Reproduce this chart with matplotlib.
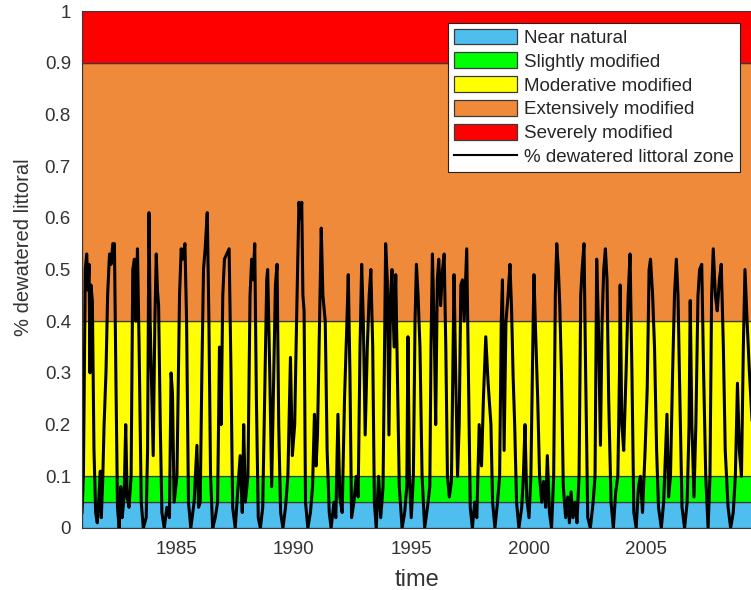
import matplotlib
matplotlib.use("Agg")
import matplotlib.pyplot as plt
from matplotlib.patches import Patch
from matplotlib.lines import Line2D

plt.rcParams['font.family'] = ['Liberation Sans', 'DejaVu Sans']

# Classification bands (lower, upper) and colours
band_labels = ["Near natural", "Slightly modified", "Moderative modified",
               "Extensively modified", "Severely modified"]
band_lower = [0.0, 0.05, 0.1, 0.4, 0.9]
band_upper = [0.05, 0.1, 0.4, 0.9, 1.0]
band_colors = ["#4DBEEE", "#00FF00", "#FFFF00", "#EF8A3A", "#FF0000"]

line_label = "% dewatered littoral zone"

# Time series (decimal year, fraction dewatered)
time = [
    1981.00, 1981.06, 1981.14, 1981.20, 1981.26, 1981.30, 1981.34, 1981.38, 1981.44, 1981.51,
    1981.58, 1981.65, 1981.72, 1981.78, 1981.82, 1981.88, 1981.94, 1982.02, 1982.09, 1982.17,
    1982.24, 1982.31, 1982.38, 1982.44, 1982.51, 1982.58, 1982.65, 1982.71, 1982.79, 1982.86,
    1982.92, 1983.00, 1983.09, 1983.16, 1983.23, 1983.29, 1983.36, 1983.43, 1983.52, 1983.61,
    1983.73, 1983.79, 1983.85, 1983.90, 1983.96, 1984.03, 1984.10, 1984.16, 1984.21, 1984.26,
    1984.33, 1984.40, 1984.50, 1984.61, 1984.72, 1984.79, 1984.85, 1984.92, 1985.04, 1985.15,
    1985.22, 1985.29, 1985.38, 1985.45, 1985.53, 1985.63, 1985.77, 1985.89, 1985.96, 1986.03,
    1986.10, 1986.17, 1986.24, 1986.33, 1986.40, 1986.47, 1986.56, 1986.67, 1986.77, 1986.85,
    1986.92, 1986.99, 1987.06, 1987.16, 1987.26, 1987.34, 1987.41, 1987.52, 1987.64, 1987.73,
    1987.82, 1987.88, 1987.95, 1988.06, 1988.15, 1988.22, 1988.28, 1988.35, 1988.42, 1988.50,
    1988.59, 1988.69, 1988.77, 1988.86, 1988.90, 1988.99, 1989.07, 1989.16, 1989.23, 1989.30,
    1989.37, 1989.45, 1989.55, 1989.66, 1989.76, 1989.87, 1989.95,
    1990.05, 1990.13, 1990.23, 1990.30, 1990.35, 1990.40, 1990.45, 1990.51, 1990.61, 1990.72,
    1990.81, 1990.89, 1990.96, 1991.02, 1991.09, 1991.18, 1991.25, 1991.35, 1991.43, 1991.52,
    1991.60, 1991.72, 1991.80, 1991.89, 1991.97, 1992.07, 1992.17, 1992.26, 1992.33, 1992.40,
    1992.47, 1992.57, 1992.67, 1992.75, 1992.83, 1992.90, 1992.97, 1993.05, 1993.14, 1993.22,
    1993.29, 1993.37, 1993.44, 1993.52, 1993.62, 1993.71, 1993.81, 1993.86, 1993.92, 1993.99,
    1994.06, 1994.13, 1994.19, 1994.28, 1994.35, 1994.42, 1994.50, 1994.62, 1994.73, 1994.82,
    1994.87, 1994.93, 1995.01, 1995.10, 1995.17, 1995.23, 1995.30, 1995.38, 1995.47, 1995.58,
    1995.70, 1995.80, 1995.85, 1995.91, 1995.98, 1996.05, 1996.12, 1996.18, 1996.26, 1996.34,
    1996.41, 1996.48, 1996.55, 1996.63, 1996.72, 1996.78, 1996.83, 1996.90, 1996.98, 1997.05,
    1997.12, 1997.19, 1997.26, 1997.37, 1997.44, 1997.52, 1997.61, 1997.71, 1997.80, 1997.90,
    1998.00, 1998.08, 1998.18, 1998.28, 1998.40, 1998.47, 1998.57, 1998.68, 1998.77, 1998.84,
    1998.89, 1998.96, 1999.04, 1999.13, 1999.21, 1999.28, 1999.34, 1999.41, 1999.49, 1999.59,
    1999.71, 1999.78, 1999.85, 1999.92, 2000.02, 2000.10, 2000.18, 2000.23, 2000.30, 2000.39,
    2000.47, 2000.56, 2000.64, 2000.73, 2000.80, 2000.89, 2000.98, 2001.07, 2001.14, 2001.20,
    2001.27, 2001.33, 2001.40, 2001.48, 2001.58, 2001.67, 2001.74, 2001.81, 2001.89, 2001.98,
    2002.06, 2002.15, 2002.22, 2002.28, 2002.36, 2002.43, 2002.52, 2002.63, 2002.75, 2002.83,
    2002.90, 2002.97, 2003.06, 2003.13, 2003.20, 2003.27, 2003.34, 2003.41, 2003.51, 2003.61,
    2003.71, 2003.80, 2003.87, 2003.90, 2003.97, 2004.05, 2004.15, 2004.24, 2004.32, 2004.40,
    2004.48, 2004.58, 2004.68, 2004.76, 2004.85, 2004.96, 2005.05, 2005.13, 2005.19, 2005.28,
    2005.36, 2005.45, 2005.53, 2005.65, 2005.75, 2005.83, 2005.89, 2005.96, 2006.04, 2006.13,
    2006.21, 2006.29, 2006.36, 2006.44, 2006.53, 2006.64, 2006.75, 2006.83, 2006.88, 2006.95,
    2007.04, 2007.12, 2007.21, 2007.28, 2007.37, 2007.45, 2007.54, 2007.64, 2007.72, 2007.79,
    2007.86, 2007.95, 2008.03, 2008.12, 2008.20, 2008.29, 2008.37, 2008.49, 2008.60, 2008.71,
    2008.80, 2008.89, 2008.97, 2009.06, 2009.14, 2009.21, 2009.30, 2009.40, 2009.52,
]
dewatered = [
    0.03, 0.10, 0.50, 0.53, 0.46, 0.51, 0.30, 0.47, 0.44, 0.15,
    0.03, 0.01, 0.06, 0.11, 0.02, 0.09, 0.20, 0.30, 0.45, 0.53,
    0.51, 0.55, 0.55, 0.30, 0.04, 0.00, 0.08, 0.02, 0.06, 0.20,
    0.06, 0.04, 0.10, 0.50, 0.52, 0.40, 0.54, 0.35, 0.05, 0.00,
    0.02, 0.15, 0.61, 0.40, 0.28, 0.14, 0.40, 0.53, 0.46, 0.43,
    0.20, 0.03, 0.00, 0.04, 0.02, 0.30, 0.26, 0.05, 0.10, 0.45,
    0.54, 0.52, 0.55, 0.40, 0.05, 0.00, 0.05, 0.16, 0.04, 0.05,
    0.30, 0.50, 0.54, 0.61, 0.40, 0.10, 0.00, 0.02, 0.05, 0.35,
    0.20, 0.45, 0.52, 0.53, 0.54, 0.30, 0.04, 0.00, 0.08, 0.14,
    0.03, 0.20, 0.05, 0.10, 0.45, 0.52, 0.48, 0.55, 0.25, 0.02,
    0.00, 0.04, 0.25, 0.48, 0.50, 0.30, 0.08, 0.30, 0.47, 0.51,
    0.20, 0.03, 0.00, 0.04, 0.10, 0.33, 0.14,
    0.20, 0.40, 0.63, 0.60, 0.63, 0.45, 0.42, 0.05, 0.00, 0.03,
    0.08, 0.22, 0.12, 0.18, 0.35, 0.58, 0.45, 0.40, 0.15, 0.03,
    0.00, 0.05, 0.02, 0.22, 0.06, 0.03, 0.25, 0.38, 0.49, 0.30,
    0.02, 0.05, 0.10, 0.06, 0.35, 0.51, 0.40, 0.18, 0.35, 0.45,
    0.50, 0.35, 0.05, 0.00, 0.10, 0.02, 0.08, 0.30, 0.55, 0.48,
    0.18, 0.45, 0.50, 0.35, 0.49, 0.30, 0.08, 0.00, 0.03, 0.08,
    0.37, 0.10, 0.02, 0.10, 0.40, 0.51, 0.45, 0.35, 0.10, 0.00,
    0.04, 0.08, 0.35, 0.53, 0.40, 0.20, 0.48, 0.52, 0.43, 0.50,
    0.53, 0.35, 0.10, 0.06, 0.09, 0.30, 0.49, 0.30, 0.10, 0.20,
    0.47, 0.48, 0.40, 0.54, 0.30, 0.04, 0.00, 0.05, 0.02, 0.20,
    0.12, 0.25, 0.37, 0.28, 0.20, 0.05, 0.00, 0.05, 0.10, 0.40,
    0.48, 0.15, 0.40, 0.45, 0.51, 0.42, 0.30, 0.20, 0.05, 0.00,
    0.04, 0.10, 0.20, 0.06, 0.02, 0.10, 0.35, 0.49, 0.38, 0.25,
    0.10, 0.05, 0.09, 0.04, 0.14, 0.03, 0.00, 0.10, 0.45, 0.55,
    0.50, 0.43, 0.30, 0.08, 0.02, 0.06, 0.01, 0.07, 0.02, 0.05,
    0.01, 0.10, 0.45, 0.50, 0.55, 0.30, 0.02, 0.00, 0.05, 0.10,
    0.52, 0.40, 0.16, 0.40, 0.50, 0.54, 0.48, 0.25, 0.05, 0.00,
    0.07, 0.10, 0.30, 0.47, 0.20, 0.15, 0.30, 0.45, 0.53, 0.30,
    0.03, 0.00, 0.08, 0.10, 0.03, 0.15, 0.27, 0.50, 0.52, 0.45,
    0.35, 0.15, 0.04, 0.00, 0.05, 0.15, 0.22, 0.06, 0.10, 0.30,
    0.45, 0.52, 0.45, 0.25, 0.04, 0.00, 0.05, 0.20, 0.44, 0.20,
    0.06, 0.20, 0.45, 0.50, 0.51, 0.30, 0.10, 0.00, 0.10, 0.45,
    0.54, 0.45, 0.42, 0.48, 0.51, 0.35, 0.15, 0.04, 0.00, 0.03,
    0.10, 0.28, 0.15, 0.10, 0.35, 0.50, 0.40, 0.30, 0.20,
]

x_ticks = [1985, 1990, 1995, 2000, 2005]
y_ticks = [0, 0.1, 0.2, 0.3, 0.4, 0.5, 0.6, 0.7, 0.8, 0.9, 1]
y_ticklabels = ["0", "0.1", "0.2", "0.3", "0.4", "0.5", "0.6", "0.7", "0.8", "0.9", "1"]

fig = plt.figure(figsize=(7.51, 5.90), dpi=100)
ax = fig.add_axes([82 / 751, 1 - 528 / 590, 1 - 82 / 751 + 0.002, (528 - 11) / 590])

handles = []
for lo, hi, col, lab in zip(band_lower, band_upper, band_colors, band_labels):
    ax.axhspan(lo, hi, facecolor=col, edgecolor="#3a3a3a", linewidth=0.9, zorder=1)
    handles.append(Patch(facecolor=col, edgecolor="#3a3a3a", linewidth=0.9, label=lab))

ax.plot(time, dewatered, color="black", linewidth=2.2, zorder=3)
handles.append(Line2D([0], [0], color="black", linewidth=1.5, label=line_label))

ax.set_xlim(1981.0, 2009.53)
ax.set_ylim(0, 1)
ax.set_xticks(x_ticks)
ax.set_xticklabels([str(v) for v in x_ticks])
ax.set_yticks(y_ticks)
ax.set_yticklabels(y_ticklabels)
ax.tick_params(direction="in", length=0, labelsize=13.5, colors="#333333")
ax.tick_params(axis="y", pad=8)
ax.tick_params(axis="x", pad=9)
for sp in ax.spines.values():
    sp.set_color("#3a3a3a")
    sp.set_linewidth(0.8)
    sp.set_zorder(5)

ax.set_xlabel("time", fontsize=17, color="#333333", labelpad=8)
ax.set_ylabel("% dewatered littoral", fontsize=14.5, color="#333333")
ax.yaxis.set_label_coords(-0.073, 0.543)

leg = ax.legend(handles=handles, loc="upper left", bbox_to_anchor=(0.546, 0.977),
                borderaxespad=0, fontsize=13.5, handlelength=3.4, handleheight=0.9,
                handletextpad=0.35, labelspacing=0.3, borderpad=0.3,
                fancybox=False, framealpha=1, edgecolor="#222222")
leg.get_frame().set_linewidth(0.8)
for t in leg.get_texts():
    t.set_color("#262626")

fig.savefig("out.png", dpi=100)
